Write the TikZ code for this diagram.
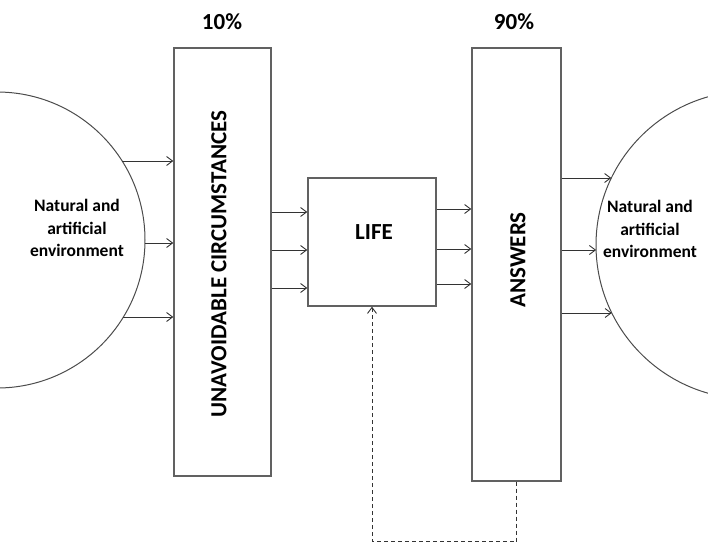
\documentclass[tikz,border=0pt]{standalone}
\usepackage{fontspec}
\setmainfont{Carlito}
\usetikzlibrary{arrows.meta,positioning}

\tikzset{
  box/.style={draw=black!62, line width=1.4pt, inner sep=0pt},
  boxtext/.style={font=\bfseries\fontsize{23}{26}\selectfont, inner sep=0pt},
  envtext/.style={font=\bfseries\fontsize{17.5}{22.5}\selectfont, align=center, inner sep=0pt},
  env/.style={draw=black!70, line width=1pt},
  flow/.style={draw=black!80, line width=0.9pt, -{Straight Barb[length=6pt,width=9pt]}},
  back/.style={flow, dash pattern=on 4pt off 3pt},
}

\begin{document}
\begin{tikzpicture}[x=1pt, y=-1pt]
    \useasboundingbox (0,0) rectangle (708,544);

    %% environments on both sides
    \begin{scope}
        \clip (0,0) rectangle (708,544);
        \draw[env] (-3,240) circle[radius=148pt];
        \draw[env] (750,245) circle[radius=154pt];
    \end{scope}
    \node[envtext] (envl) at (77,228) {Natural and\\artificial\\environment};
    \node[envtext] (envr) at (650,229) {Natural and\\artificial\\environment};

    %% boxes
    \node[box, minimum width=97, minimum height=428] (unav) at (222.5,262) {};
    \node[boxtext, rotate=90] (unavt) at (219,264) {UNAVOIDABLE CIRCUMSTANCES};
    \node[box, minimum width=128, minimum height=128] (life) at (372,242) {};
    \node[boxtext] (lifet) at (374,232) {LIFE};
    \node[box, minimum width=89, minimum height=433] (answ) at (516.5,264.5) {};
    \node[boxtext, rotate=90] (answt) at (518,260) {ANSWERS};

    \node[boxtext] (p10) at (222,22) {10\%};
    \node[boxtext] (p90) at (514,22) {90\%};

    %% points on the circles
    \coordinate (l1) at (122.2,161);
    \coordinate (l2) at (145,243);
    \coordinate (l3) at (123.4,317);
    \coordinate (r1) at (611.3,178);
    \coordinate (r2) at (596.1,250);
    \coordinate (r3) at (611.8,313);

    %% arrows
    \foreach \p in {l1,l2,l3}
        \draw[flow] (\p) -- (\p -| unav.west);
    \foreach \y in {212,250,288}
        \draw[flow] (unav.east |- 0,\y) -- (life.west |- 0,\y);
    \foreach \y in {209,249,284}
        \draw[flow] (life.east |- 0,\y) -- (answ.west |- 0,\y);
    \foreach \p in {r1,r2,r3}
        \draw[flow] (answ.east |- \p) -- (\p);

    %% feedback
    \draw[back] (answ.south) -- ++(0,60) -| (life.south);
\end{tikzpicture}
\end{document}
